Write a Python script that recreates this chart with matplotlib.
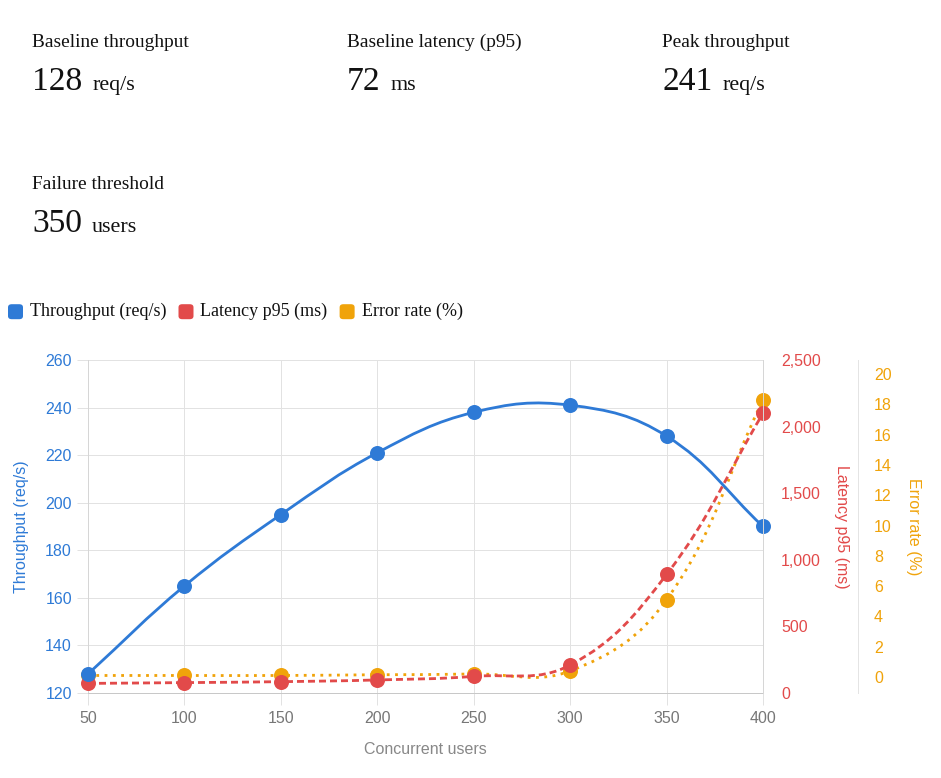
import numpy as np
import matplotlib
matplotlib.use('Agg')
import matplotlib.pyplot as plt
from matplotlib.path import Path
from matplotlib.patches import PathPatch, FancyBboxPatch
from matplotlib.ticker import FuncFormatter, MultipleLocator

# ---------------- data ----------------
users = [50, 100, 150, 200, 250, 300, 350, 400]
throughput = [128, 165, 195, 221, 238, 241, 228, 190]
latency = [72, 78, 85, 98, 125, 210, 890, 2100]
error_rate = [0.1, 0.1, 0.1, 0.15, 0.2, 0.4, 5.1, 18.3]

series_names = ["Throughput (req/s)", "Latency p95 (ms)", "Error rate (%)"]
kpi_labels = ["Baseline throughput", "Baseline latency (p95)", "Peak throughput", "Failure threshold"]
kpi_values = ["128", "72", "241", "350"]
kpi_units = ["req/s", "ms", "req/s", "users"]

x_label = "Concurrent users"
y_labels = ["Throughput (req/s)", "Latency p95 (ms)", "Error rate (%)"]

# ---------------- style ----------------
BLUE = '#2e7ad6'
RED = '#e24a4a'
ORANGE = '#f0a30a'
GRID = '#e2e2e2'
SERIF = ['Liberation Serif', 'DejaVu Serif']
SANS = ['Liberation Sans', 'DejaVu Sans']
PX = 0.72  # points per pixel at dpi 100

plt.rcParams['lines.scale_dashes'] = False
plt.rcParams['font.family'] = SANS

W, H = 941, 778
fig = plt.figure(figsize=(W / 100, H / 100), dpi=100)


def fx(px):
    return px / W


def fy(py):
    return 1 - py / H


L, R, T, B = 88, 763, 360, 693
ax = fig.add_axes([fx(L), fy(B), fx(R) - fx(L), fy(T) - fy(B)])
ax_lat = ax.twinx()
ax_err = ax.twinx()

ax.set_xlim(50, 400)
ax.set_ylim(120, 260)
ax_lat.set_ylim(0, 2500)
ax_err.set_ylim(-1.056, 20.924)

# ticks
ax.set_xticks(users)
ax.yaxis.set_major_locator(MultipleLocator(20))
ax_lat.yaxis.set_major_locator(MultipleLocator(500))
ax_lat.yaxis.set_major_formatter(FuncFormatter(lambda v, p: f"{int(v):,}"))
ax_err.set_yticks(np.arange(0, 21, 2))

ax.grid(True, color=GRID, linewidth=1 * PX)
ax.set_axisbelow(True)

ax.tick_params(axis='y', length=11 * PX, width=1 * PX, color=GRID, labelcolor=BLUE,
               pad=5 * PX, labelsize=16 * PX)
ax.tick_params(axis='x', length=12 * PX, width=1 * PX, color=GRID, labelcolor='#777777',
               pad=6 * PX, labelsize=16 * PX)
ax_lat.tick_params(axis='y', length=0, pad=18 * PX, labelcolor=RED, labelsize=16 * PX)
ax_err.tick_params(axis='y', length=0, pad=16 * PX, labelcolor=ORANGE, labelsize=16 * PX)

ax.spines['top'].set_visible(False)
ax.spines['left'].set_color('#d6d6d6')
ax.spines['bottom'].set_color('#c8c8c8')
ax.spines['right'].set_visible(False)
for s in ['top', 'left', 'bottom']:
    ax_lat.spines[s].set_visible(False)
    ax_err.spines[s].set_visible(False)
ax_lat.spines['right'].set_color('#d6d6d6')
ax_err.spines['right'].set_position(('axes', (858 - L) / (R - L)))
ax_err.spines['right'].set_color('#e4e4e4')
for a in (ax, ax_lat, ax_err):
    for s in a.spines.values():
        s.set_linewidth(1 * PX)


# ---------------- Chart.js-like tension spline ----------------
def spline_path(xs, ys, trans, t=0.4):
    pts = trans.transform(np.column_stack([xs, ys]))
    box = ax.get_window_extent()
    n = len(pts)
    cprev, cnext = [], []
    for i in range(n):
        cur = pts[i]
        prv = pts[i - 1] if i > 0 else cur
        nxt = pts[i + 1] if i < n - 1 else cur
        d01 = np.hypot(*(cur - prv))
        d12 = np.hypot(*(nxt - cur))
        tot = d01 + d12
        s01 = d01 / tot if tot else 0
        s12 = d12 / tot if tot else 0
        p = cur - t * s01 * (nxt - prv)
        q = cur + t * s12 * (nxt - prv)
        for c in (p, q):
            c[0] = min(max(c[0], box.x0), box.x1)
            c[1] = min(max(c[1], box.y0), box.y1)
        cprev.append(p)
        cnext.append(q)
    verts = [pts[0]]
    codes = [Path.MOVETO]
    for i in range(n - 1):
        verts += [cnext[i], cprev[i + 1], pts[i + 1]]
        codes += [Path.CURVE4] * 3
    verts = ax.transData.inverted().transform(np.array(verts))
    return Path(verts, codes)


series = [
    (error_rate, ax_err, ORANGE, (0, (2.8 * PX, 5.5 * PX)), 2),
    (latency, ax_lat, RED, (0, (7 * PX, 4 * PX)), 3),
    (throughput, ax, BLUE, '-', 4),
]
for vals, a, col, ls, z in series:
    path = spline_path(users, vals, a.transData)
    ax.add_patch(PathPatch(path, fill=False, edgecolor=col, linewidth=2.8 * PX,
                           linestyle=ls, zorder=z, capstyle='butt'))
    ax.plot(users, vals, linestyle='none', marker='o', markersize=15 * PX,
            markerfacecolor=col, markeredgewidth=0, zorder=z + 0.5,
            transform=a.transData, clip_on=False)

ax.set_xlim(50, 400)
ax.set_ylim(120, 260)

# axis titles
fig.text(fx(22), fy(527), y_labels[0], rotation=90, color=BLUE, fontsize=16 * PX,
         ha='center', va='center')
fig.text(fx(842), fy(527), y_labels[1], rotation=270, color=RED, fontsize=16 * PX,
         ha='center', va='center')
fig.text(fx(914), fy(527), y_labels[2], rotation=270, color=ORANGE, fontsize=16 * PX,
         ha='center', va='center')
fig.text(fx((L + R) / 2), fy(749), x_label, color='#888888', fontsize=16 * PX,
         ha='center', va='center')

renderer = fig.canvas.get_renderer()

# ---------------- KPI header ----------------
kpi_pos = [(32, 46.7, 90), (347, 46.7, 90), (662, 46.7, 90), (32, 189, 231.5)]
for (x0, yl, yv), lab, val, unit in zip(kpi_pos, kpi_labels, kpi_values, kpi_units):
    fig.text(fx(x0), fy(yl), lab, family=SERIF, fontsize=19.4 * PX, color='#111111',
             ha='left', va='baseline')
    tv = fig.text(fx(x0), fy(yv), val, family=SERIF, fontsize=33.5 * PX, color='#111111',
                  ha='left', va='baseline')
    wv = tv.get_window_extent(renderer).width
    fig.text(fx(x0 + wv + 10), fy(yv), unit, family=SERIF, fontsize=22 * PX,
             color='#111111', ha='left', va='baseline')

# ---------------- legend ----------------
lx = 8
ly = 311.7
for name, col in zip(series_names, [BLUE, RED, ORANGE]):
    bw = 15
    fig.patches.append(FancyBboxPatch((fx(lx), fy(ly + bw / 2)), fx(bw), bw / H,
                                      boxstyle='round,pad=0,rounding_size=0.004',
                                      transform=fig.transFigure, facecolor=col,
                                      edgecolor='none', figure=fig))
    tt = fig.text(fx(lx + bw + 7), fy(ly), name, family=SERIF, fontsize=18 * PX,
                  color='#111111', ha='left', va='center')
    tw = tt.get_window_extent(renderer).width
    lx = lx + bw + 7 + tw + 12

fig.savefig('out.png', dpi=100)
